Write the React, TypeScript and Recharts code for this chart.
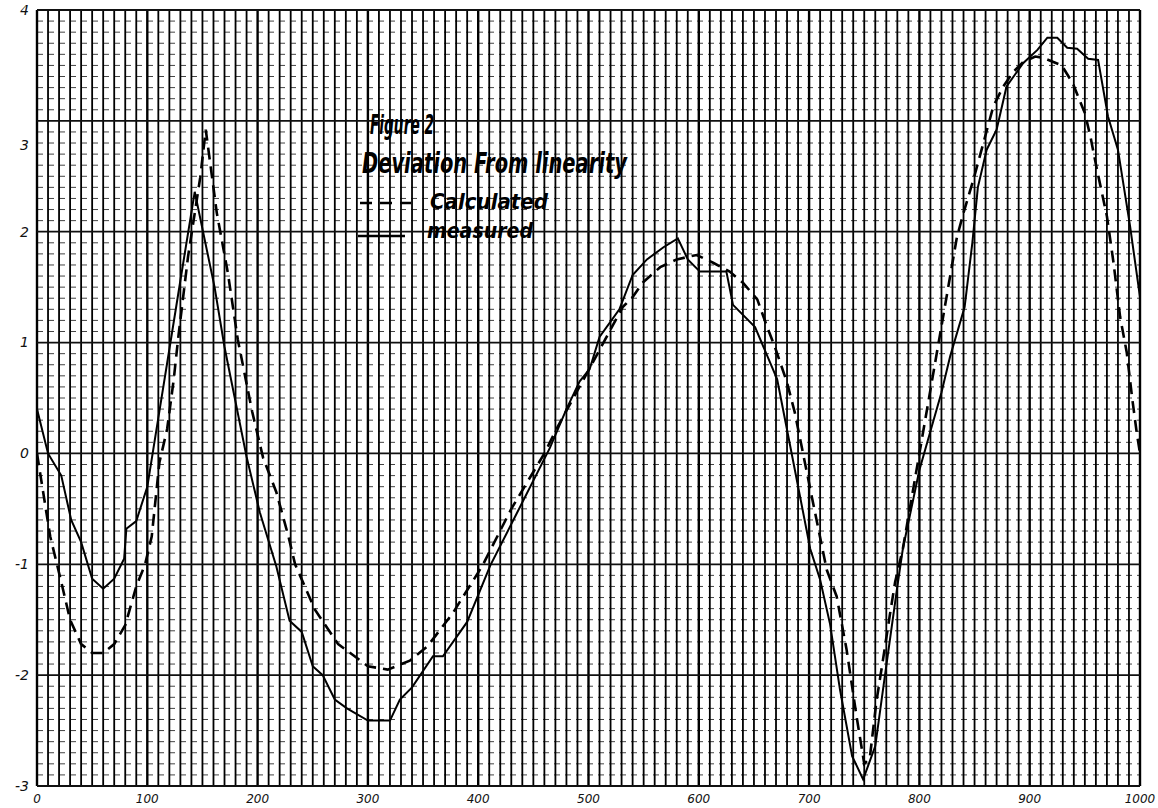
import React from "react";
import { LineChart, Line, XAxis, YAxis, ReferenceLine } from "recharts";

const measuredX = [0, 10, 22, 31, 40, 50, 60, 70, 79, 81, 90, 100, 110, 120, 130, 143, 161, 170, 190, 202, 217, 229, 240, 250, 259, 270, 281, 300, 320, 329, 340, 359, 368, 390, 411, 435, 465, 480, 492, 501, 510, 528, 540, 553, 568, 581, 590, 601, 625, 631, 651, 671, 683, 701, 710, 719, 728, 739, 749, 760, 767, 780, 785, 800, 810, 820, 828, 841, 848, 853, 861, 870, 879, 894, 907, 916, 925, 934, 943, 953, 962, 971, 980, 991, 1000];
const measuredY = [0.4, 0.0, -0.2, -0.6, -0.8, -1.13, -1.22, -1.13, -0.95, -0.68, -0.61, -0.3, 0.32, 0.94, 1.56, 2.36, 1.5, 0.96, -0.03, -0.53, -1.02, -1.51, -1.61, -1.92, -2.0, -2.22, -2.3, -2.41, -2.41, -2.22, -2.11, -1.83, -1.83, -1.52, -1.01, -0.54, 0.05, 0.4, 0.65, 0.76, 1.05, 1.3, 1.61, 1.75, 1.86, 1.94, 1.75, 1.64, 1.64, 1.34, 1.14, 0.67, 0.06, -0.86, -1.14, -1.54, -2.13, -2.73, -2.94, -2.64, -2.13, -1.2, -0.86, -0.15, 0.2, 0.55, 0.88, 1.32, 1.9, 2.4, 2.74, 2.92, 3.31, 3.52, 3.64, 3.75, 3.75, 3.66, 3.65, 3.56, 3.55, 3.04, 2.74, 2.05, 1.41];

const calculatedX = [0, 12, 22, 30, 40, 50, 60, 70, 80, 90, 98, 104, 111, 118, 124, 128, 137, 148, 153, 163, 173, 182, 195, 205, 217, 228, 234, 252, 273, 284, 300, 318, 338, 354, 377, 404, 430, 460, 472, 500, 531, 540, 549, 565, 580, 598, 613, 628, 640, 653, 662, 669, 680, 687, 700, 716, 725, 734, 743, 750, 755, 761, 767, 773, 778, 785, 834, 840, 849, 858, 867, 876, 885, 894, 905, 912, 929, 939, 950, 955, 961, 970, 976, 982, 988, 993, 997, 1000];
const calculatedY = [0, -0.75, -1.16, -1.5, -1.72, -1.8, -1.8, -1.72, -1.55, -1.2, -1.0, -0.75, -0.08, 0.22, 0.67, 1.04, 1.78, 2.49, 2.92, 2.17, 1.63, 1.03, 0.38, -0.04, -0.35, -0.75, -1.0, -1.41, -1.72, -1.8, -1.92, -1.95, -1.87, -1.74, -1.44, -1.01, -0.5, 0.0, 0.24, 0.75, 1.32, 1.41, 1.54, 1.68, 1.75, 1.79, 1.72, 1.64, 1.54, 1.39, 1.14, 0.96, 0.64, 0.37, -0.27, -1.05, -1.29, -1.77, -2.37, -2.8, -2.75, -2.24, -1.86, -1.47, -1.16, -0.86, 1.95, 2.17, 2.47, 2.8, 3.13, 3.31, 3.44, 3.53, 3.58, 3.57, 3.5, 3.34, 3.07, 2.86, 2.56, 2.14, 1.72, 1.23, 0.91, 0.49, 0.19, 0];

const xTicks = [0, 100, 200, 300, 400, 500, 600, 700, 800, 900, 1000];
const yTicks = [-3, -2, -1, 0, 1, 2, 3, 4];

const measuredData = measuredX.map((x, i) => ({ x, y: measuredY[i] }));
const calculatedData = calculatedX.map((x, i) => ({ x, y: calculatedY[i] }));

const gridX = Array.from({ length: 101 }, (_, i) => i * 10);
const gridY = Array.from({ length: 71 }, (_, i) => Math.round((-3 + i * 0.1) * 10) / 10);

const hand = "'DejaVu Sans', sans-serif";

const YTick = (props: any) => {
  const { x, y, payload } = props;
  const dy = payload.value === 3 ? 24 : 0;
  return (
    <text x={x} y={y + dy} dy="0.35em" textAnchor="end" fontFamily={hand} fontStyle="italic" fontSize={14} fill="#111">
      {payload.value}
    </text>
  );
};

const XTick = (props: any) => {
  const { x, y, payload } = props;
  return (
    <text x={x} y={y} dy="0.71em" textAnchor="middle" fontFamily={hand} fontStyle="italic" fontSize={12} fill="#111">
      {payload.value}
    </text>
  );
};

export default function App() {
  return (
    <div style={{ position: "absolute", left: 0, top: 0, width: 1158, height: 808, background: "#fff" }}>
      <LineChart width={1158} height={808} margin={{ top: 10, right: 18, left: 7, bottom: 2 }}>
        <XAxis type="number" dataKey="x" domain={[0, 1000]} ticks={xTicks} interval={0} height={20} axisLine={false} tickLine={false} tick={<XTick />} allowDataOverflow />
        <YAxis type="number" dataKey="y" domain={[-3, 4]} ticks={yTicks} interval={0} width={30} axisLine={false} tickLine={false} tick={<YTick />} allowDataOverflow />
        {gridY.map((v) =>
          Math.abs(v - Math.round(v)) < 1e-6 ? null : (
            <ReferenceLine key={"hy" + v} y={v} stroke="#444" strokeWidth={1} strokeDasharray="6 5" />
          )
        )}
        {gridX.map((v) => (
          <ReferenceLine key={"vx" + v} x={v} stroke="#000" strokeWidth={v % 100 === 0 ? 2.4 : 1.8} />
        ))}
        {yTicks.map((v) => (
          <ReferenceLine key={"my" + v} y={v} stroke="#111" strokeWidth={1.8} />
        ))}
        <Line data={calculatedData} dataKey="y" type="linear" stroke="#000" strokeWidth={2.6} strokeDasharray="12 7" dot={false} isAnimationActive={false} name="Calculated" />
        <Line data={measuredData} dataKey="y" type="linear" stroke="#000" strokeWidth={2} dot={false} isAnimationActive={false} name="measured" />
      </LineChart>
      <svg width={1158} height={808} style={{ position: "absolute", left: 0, top: 0, pointerEvents: "none" }}>
        <text x={370} y={134} fontFamily={hand} fontStyle="italic" fontWeight="bold" fontSize={26} textLength={64} lengthAdjust="spacingAndGlyphs" fill="#000">Figure 2</text>
        <text x={362} y={173} fontFamily={hand} fontStyle="italic" fontWeight="bold" fontSize={28} textLength={265} lengthAdjust="spacingAndGlyphs" fill="#000">Deviation From linearity</text>
        <line x1={360} y1={203} x2={411} y2={203} stroke="#000" strokeWidth={2.5} strokeDasharray="12 8" />
        <text x={430} y={209} fontFamily={hand} fontStyle="italic" fontWeight="bold" fontSize={22} textLength={118} lengthAdjust="spacingAndGlyphs" fill="#000">Calculated</text>
        <line x1={358} y1={236} x2={405} y2={236} stroke="#000" strokeWidth={2.5} />
        <text x={427} y={238} fontFamily={hand} fontStyle="italic" fontWeight="bold" fontSize={22} textLength={106} lengthAdjust="spacingAndGlyphs" fill="#000">measured</text>
      </svg>
    </div>
  );
}
